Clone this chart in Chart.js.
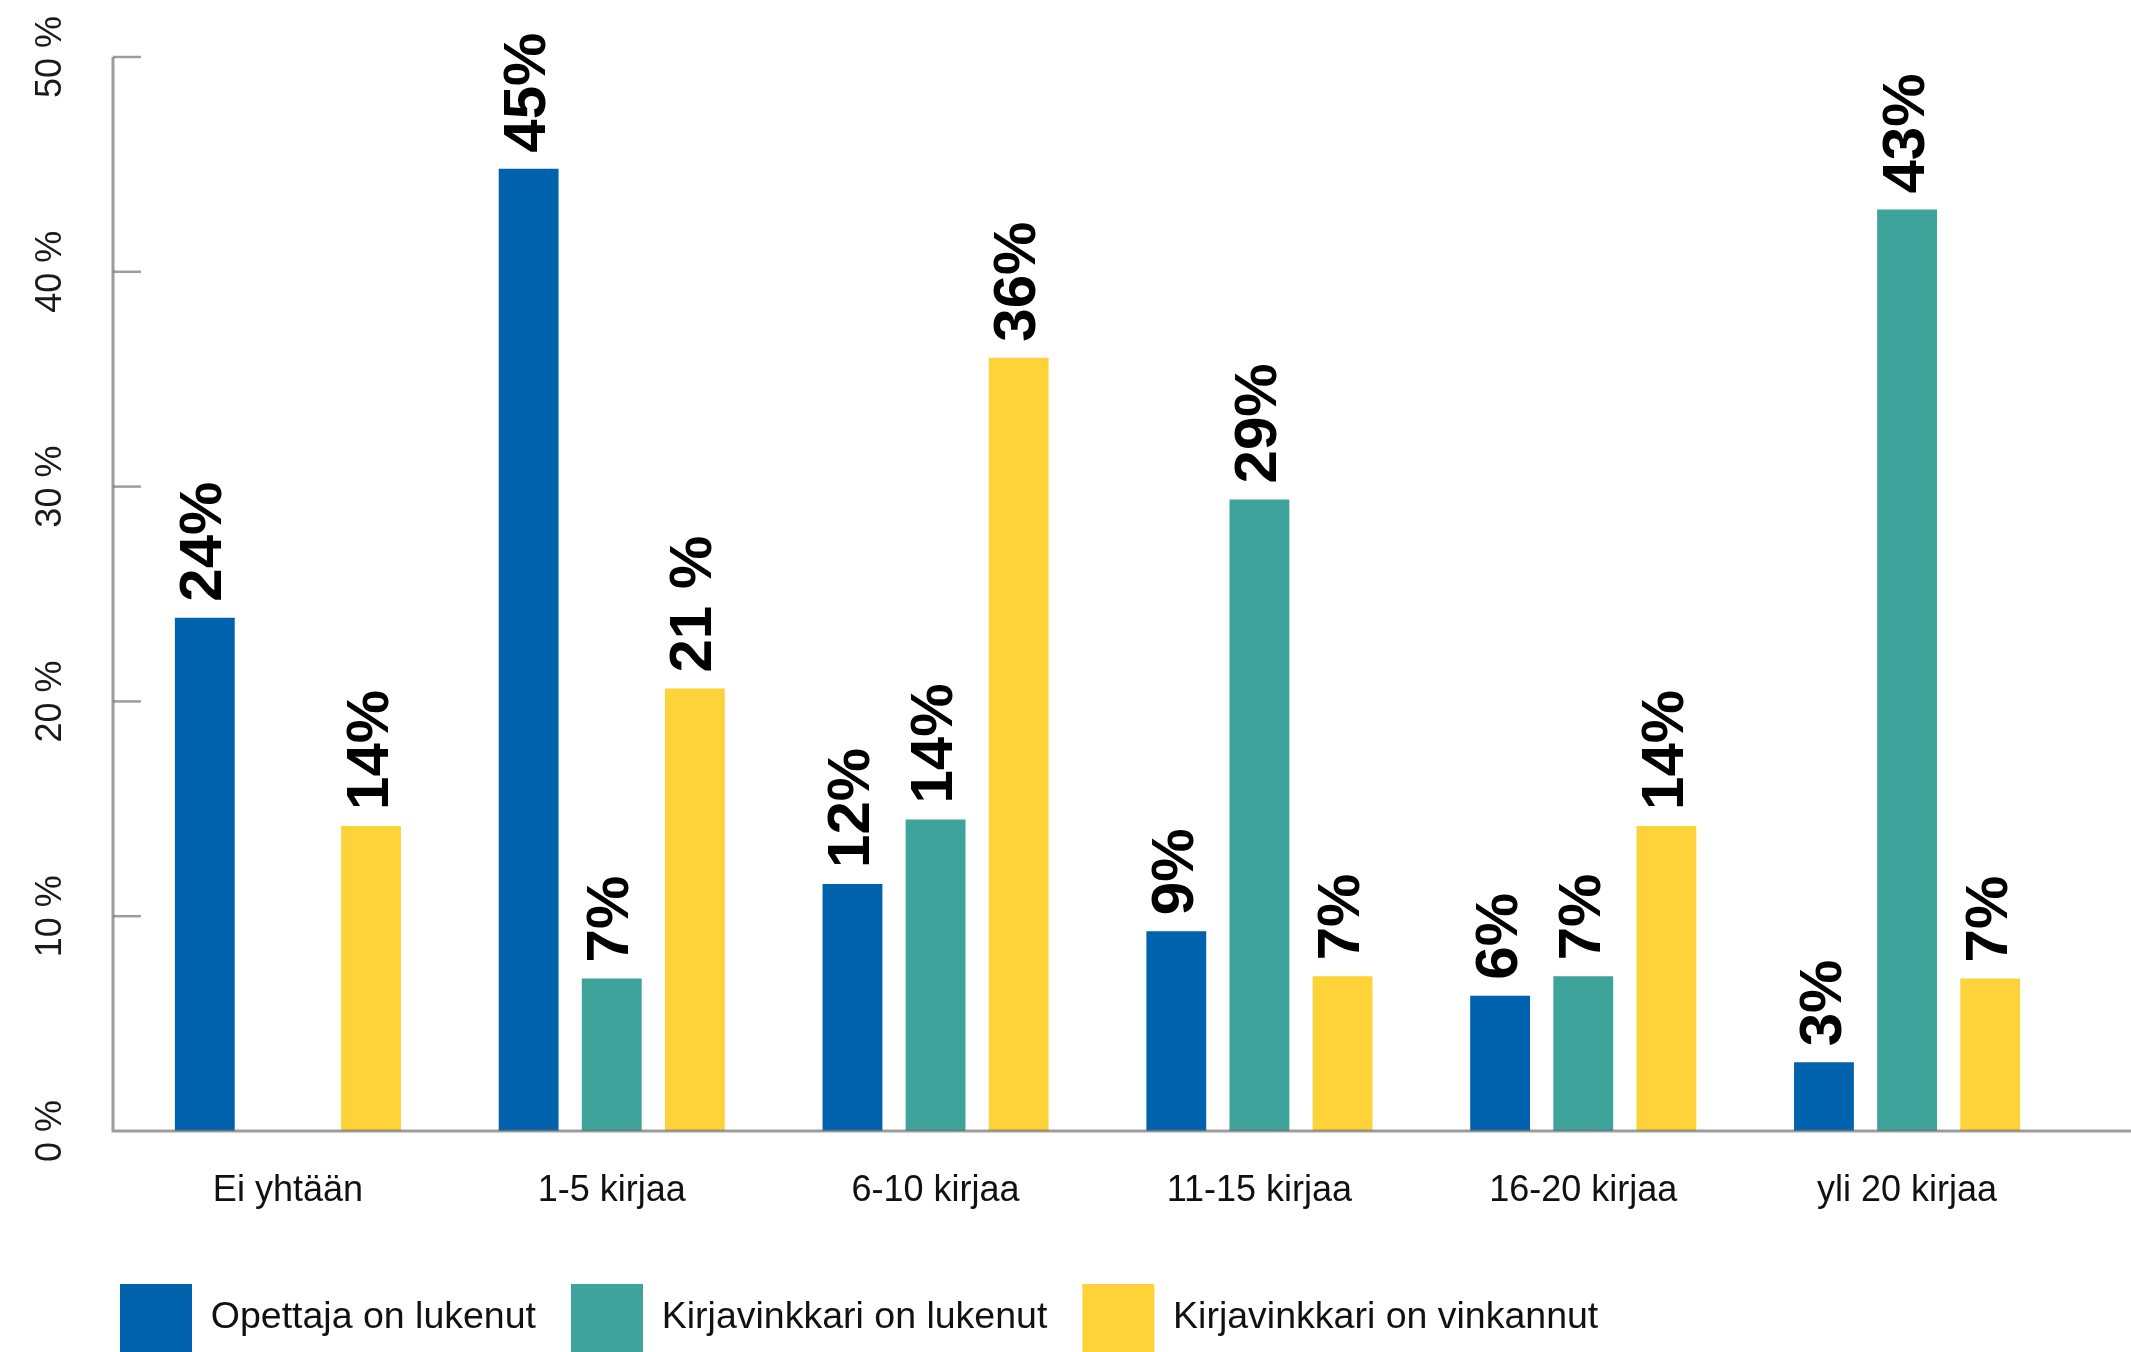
<!DOCTYPE html>
<html lang="fi">
<head>
  <meta charset="UTF-8" />
  <title>Luetut kirjat</title>
  <script src="https://cdn.jsdelivr.net/npm/chart.js@4"></script>
  <style>
    html, body { margin: 0; padding: 0; background: #fff; }
    #wrap { width: 2131px; height: 1352px; position: relative; }
  </style>
</head>
<body>
  <div id="wrap"><canvas id="kirjat"></canvas></div>

  <script>
    // aineisto
    const categories = ['Ei yhtään', '1-5 kirjaa', '6-10 kirjaa', '11-15 kirjaa', '16-20 kirjaa', 'yli 20 kirjaa'];
    const seriesNames = ['Opettaja on lukenut', 'Kirjavinkkari on lukenut', 'Kirjavinkkari on vinkannut'];
    const opettajaLukenut = [23.9, 44.8, 11.5, 9.3, 6.3, 3.2];
    const vinkkariLukenut = [null, 7.1, 14.5, 29.4, 7.2, 42.9];
    const vinkkariVinkannut = [14.2, 20.6, 36.0, 7.2, 14.2, 7.1];
    const opettajaLabels = ['24%', '45%', '12%', '9%', '6%', '3%'];
    const lukenutLabels = ['', '7%', '14%', '29%', '7%', '43%'];
    const vinkannutLabels = ['14%', '21 %', '36%', '7%', '14%', '7%'];
    const yTicks = [0, 10, 20, 30, 40, 50];

    const colors = ['#0061ad', '#3ea39a', '#fed33a'];
    const barLabels = [opettajaLabels, lukenutLabels, vinkannutLabels];
    const FONT = '"Liberation Sans", Arial, Helvetica, sans-serif';

    Chart.defaults.font.family = FONT;
    Chart.defaults.color = '#111';

    // akselit ja pystyt asteikkoluvut piirretään itse
    const axisLines = {
      id: 'axisLines',
      afterDatasetsDraw(chart) {
        const { ctx, chartArea, scales: { y } } = chart;
        const ax = chartArea.left - 13;
        const base = y.getPixelForValue(0);
        ctx.save();
        ctx.strokeStyle = 'rgba(115,115,115,0.7)';
        ctx.lineWidth = 3;
        ctx.beginPath();
        ctx.moveTo(ax, y.getPixelForValue(yTicks[yTicks.length - 1]));
        ctx.lineTo(ax, base);
        ctx.lineTo(chart.width, base);
        ctx.stroke();
        ctx.lineWidth = 2.5;
        y.ticks.forEach(t => {
          if (t.value === 0) return;
          const py = y.getPixelForValue(t.value);
          ctx.beginPath();
          ctx.moveTo(ax, py);
          ctx.lineTo(ax + 28, py);
          ctx.stroke();
        });
        // asteikon tekstit
        ctx.fillStyle = '#1a1a1a';
        ctx.font = '36px ' + FONT;
        ctx.textAlign = 'center';
        ctx.textBaseline = 'middle';
        y.ticks.forEach(t => {
          const py = y.getPixelForValue(t.value);
          ctx.save();
          ctx.translate(ax - 62, py);
          ctx.rotate(-Math.PI / 2);
          ctx.fillText(t.value + ' %', 0, 0);
          ctx.restore();
        });
        ctx.restore();
      }
    };

    // pystyt prosenttiluvut pylväiden päälle
    const valueLabels = {
      id: 'valueLabels',
      afterDatasetsDraw(chart) {
        const ctx = chart.ctx;
        ctx.save();
        ctx.font = 'bold 60px ' + FONT;
        ctx.fillStyle = '#000';
        ctx.textAlign = 'left';
        ctx.textBaseline = 'middle';
        chart.data.datasets.forEach((ds, i) => {
          const meta = chart.getDatasetMeta(i);
          meta.data.forEach((bar, j) => {
            const txt = barLabels[i][j];
            if (!txt || ds.data[j] == null) return;
            ctx.save();
            ctx.translate(bar.x, bar.y - 16);
            ctx.rotate(-Math.PI / 2);
            ctx.fillText(txt, 0, 0);
            ctx.restore();
          });
        });
        ctx.restore();
      }
    };

    const seriesData = [opettajaLukenut, vinkkariLukenut, vinkkariVinkannut];

    new Chart(document.getElementById('kirjat'), {
      type: 'bar',
      data: {
        labels: categories,
        datasets: seriesNames.map((name, i) => ({
          label: name,
          data: seriesData[i],
          backgroundColor: colors[i],
          borderWidth: 0,
          categoryPercentage: 0.77,
          barPercentage: 0.72
        }))
      },
      options: {
        responsive: true,
        maintainAspectRatio: false,
        animation: false,
        layout: { padding: { left: 85, right: 62, top: 57, bottom: -10 } },
        plugins: {
          legend: {
            position: 'bottom',
            align: 'start',
            labels: {
              boxWidth: 72,
              boxHeight: 68,
              padding: 35,
              color: '#111',
              font: { size: 37.5 }
            }
          },
          tooltip: { enabled: false }
        },
        scales: {
          x: {
            grid: { display: false },
            border: { display: false },
            ticks: { color: '#111', font: { size: 36 }, padding: 30 },
            afterFit(scale) { scale.height = 118; }
          },
          y: {
            min: 0,
            max: 50,
            grid: { display: false },
            border: { display: false },
            ticks: { stepSize: 10, display: false },
            afterFit(scale) { scale.width = 41; }
          }
        }
      },
      plugins: [axisLines, valueLabels]
    });
  </script>
</body>
</html>
